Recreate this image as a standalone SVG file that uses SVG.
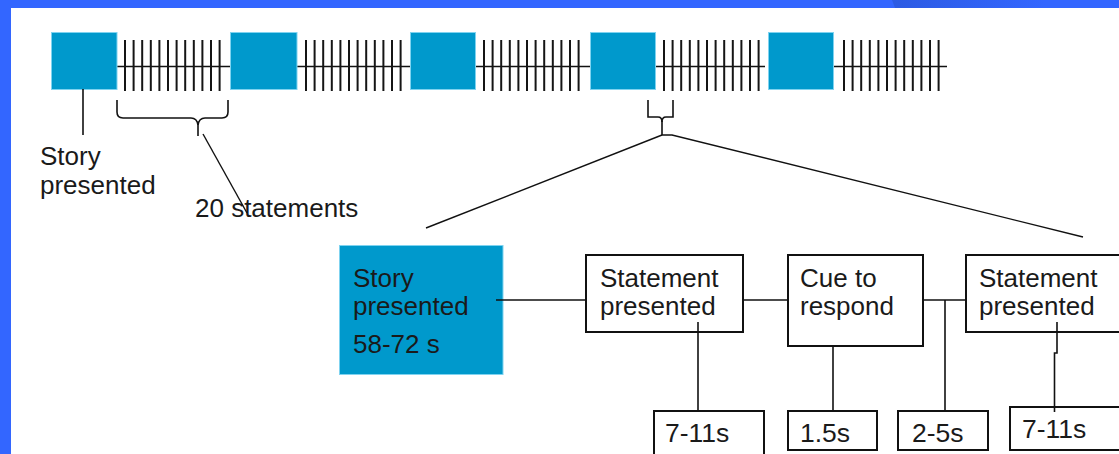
<svg xmlns="http://www.w3.org/2000/svg" xmlns:xlink="http://www.w3.org/1999/xlink" width="1119" height="454" viewBox="0 0 1119 454">
  <defs>
    <linearGradient id="bandShade" x1="0" y1="0" x2="1" y2="0">
      <stop offset="0" stop-color="#2c5be3"/>
      <stop offset="1" stop-color="#3366ff"/>
    </linearGradient>
    <!-- one run of twelve statement ticks -->
    <g id="ticks" class="tick">
      <line x1="0" y1="40" x2="0" y2="91"/>
      <line x1="8.6" y1="40" x2="8.6" y2="91"/>
      <line x1="17.2" y1="40" x2="17.2" y2="91"/>
      <line x1="25.8" y1="40" x2="25.8" y2="91"/>
      <line x1="34.4" y1="40" x2="34.4" y2="91"/>
      <line x1="43" y1="40" x2="43" y2="91"/>
      <line x1="51.6" y1="40" x2="51.6" y2="91"/>
      <line x1="60.2" y1="40" x2="60.2" y2="91"/>
      <line x1="68.8" y1="40" x2="68.8" y2="91"/>
      <line x1="77.4" y1="40" x2="77.4" y2="91"/>
      <line x1="86" y1="40" x2="86" y2="91"/>
      <line x1="94.6" y1="40" x2="94.6" y2="91"/>
    </g>
  </defs>
  <style>
    .frame { fill: #3366ff; }
    .story { fill: #0099cc; stroke: #7fd3f0; stroke-width: 1; }
    .box { fill: #ffffff; stroke: #111111; stroke-width: 2; }
    .tick { stroke: #151515; stroke-width: 2; }
    .wire { fill: none; stroke: #111111; stroke-width: 1.6; }
    .thin { fill: none; stroke: #111111; stroke-width: 1.4; }
    .lbl { font-family: "Liberation Sans", Arial, sans-serif; font-size: 26px; fill: #1a1a1a; }
    .dur { font-size: 26.5px; }
  </style>

  <!-- page background and frame -->
  <rect x="0" y="0" width="1119" height="454" fill="#ffffff"/>
  <rect class="frame" x="0" y="0" width="1119" height="8"/>
  <polygon points="892,0 1045,0 1045,8 895,8" fill="url(#bandShade)"/>
  <rect class="frame" x="0" y="0" width="11" height="454"/>

  <!-- timeline: story blocks separated by statement runs -->
  <g id="timeline">
    <g class="wire">
      <line x1="117" y1="66.5" x2="230" y2="66.5"/>
      <line x1="297" y1="66.5" x2="410" y2="66.5"/>
      <line x1="475" y1="66.5" x2="590" y2="66.5"/>
      <line x1="655" y1="66.5" x2="765" y2="66.5"/>
      <line x1="833" y1="66.5" x2="947" y2="66.5"/>
    </g>
    <use xlink:href="#ticks" x="125" y="0"/>
    <use xlink:href="#ticks" x="306" y="0"/>
    <use xlink:href="#ticks" x="484" y="0"/>
    <use xlink:href="#ticks" x="664" y="0"/>
    <use xlink:href="#ticks" x="844" y="0"/>
  </g>
  <g id="story-block-1"><rect class="story" x="51.5" y="32.5" width="65.5" height="57"/></g>
  <g id="story-block-2"><rect class="story" x="230.5" y="32.5" width="66.5" height="57"/></g>
  <g id="story-block-3"><rect class="story" x="410.5" y="32.5" width="65" height="57"/></g>
  <g id="story-block-4"><rect class="story" x="590.5" y="32.5" width="65" height="57"/></g>
  <g id="story-block-5"><rect class="story" x="768.5" y="32.5" width="65" height="57"/></g>

  <!-- annotations on the timeline -->
  <g id="story-label">
    <text class="lbl" x="40" y="165">Story</text>
    <text class="lbl" x="40" y="194">presented</text>
  </g>
  <g id="statements-label">
    <text class="lbl" x="195" y="217">20 statements</text>
  </g>

  <!-- detail view nodes -->
  <g id="story-detail">
    <rect class="story" x="339.5" y="245.5" width="163.5" height="129"/>
    <text class="lbl" x="353" y="287">Story</text>
    <text class="lbl" x="353" y="315">presented</text>
    <text class="lbl" x="353" y="353">58-72 s</text>
  </g>
  <g id="statement-1">
    <rect class="box" x="586" y="255" width="157" height="77"/>
    <text class="lbl" x="600" y="287">Statement</text>
    <text class="lbl" x="600" y="315">presented</text>
  </g>
  <g id="cue">
    <rect class="box" x="788" y="255" width="135" height="91"/>
    <text class="lbl" x="800" y="287">Cue to</text>
    <text class="lbl" x="800" y="315">respond</text>
  </g>
  <g id="statement-2">
    <rect class="box" x="966" y="255" width="160" height="77"/>
    <text class="lbl" x="979" y="287">Statement</text>
    <text class="lbl" x="979" y="315">presented</text>
  </g>
  <g id="dur-statement-1">
    <rect class="box" x="654" y="411" width="110" height="50"/>
    <text class="lbl dur" x="665" y="442">7-11s</text>
  </g>
  <g id="dur-cue">
    <rect class="box" x="788" y="411" width="89" height="39"/>
    <text class="lbl dur" x="800" y="442">1.5s</text>
  </g>
  <g id="dur-gap">
    <rect class="box" x="898" y="411" width="90" height="39"/>
    <text class="lbl dur" x="912" y="442">2-5s</text>
  </g>
  <g id="dur-statement-2">
    <rect class="box" x="1010" y="407" width="120" height="43"/>
    <text class="lbl dur" x="1022" y="438">7-11s</text>
  </g>

  <!-- connectors -->
  <g id="connectors">
    <line class="wire" x1="83" y1="89" x2="83" y2="135"/>
    <path class="wire" d="M117,100 V112 Q117,118 123,118 H191 Q197,118 198,125 Q199,118 205,118 H222 Q228,118 228,112 V100"/>
    <line class="wire" x1="198" y1="124" x2="198" y2="136"/>
    <line class="thin" x1="203" y1="134" x2="247" y2="213"/>
    <path class="wire" d="M648,100 V117 H658 Q662,117 662,122 Q662,117 666,117 H673 V100"/>
    <line class="wire" x1="662" y1="121" x2="662" y2="135"/>
    <line class="thin" x1="662" y1="135" x2="426" y2="228"/>
    <polyline class="thin" points="662,135 672,135 1083,237"/>
    <line class="wire" x1="496" y1="300" x2="586" y2="300"/>
    <line class="wire" x1="743" y1="300" x2="788" y2="300"/>
    <line class="wire" x1="923" y1="300" x2="966" y2="300"/>
    <line class="wire" x1="945" y1="300" x2="945" y2="411"/>
    <line class="wire" x1="698" y1="322" x2="698" y2="411"/>
    <line class="wire" x1="833" y1="346" x2="833" y2="411"/>
    <path class="wire" d="M1057,322 V353 H1054.5 V412"/>
  </g>
</svg>
